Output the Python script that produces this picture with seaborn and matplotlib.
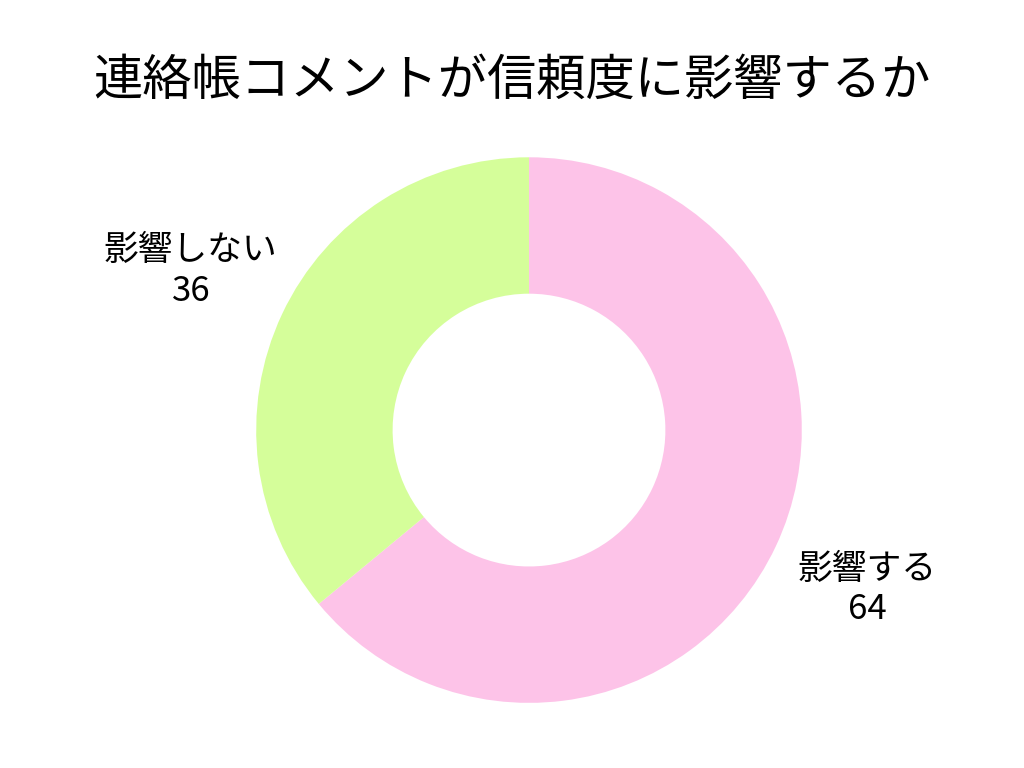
import matplotlib
matplotlib.use("Agg")
import matplotlib.pyplot as plt
import seaborn as sns

# data
categories = ["影響する", "影響しない"]
values = [64, 36]
colors = ["#FDC3E8", "#D5FE9A"]
title = "連絡帳コメントが信頼度に影響するか"

sns.set_style("white")
plt.rcParams['font.family'] = ['Noto Sans CJK JP', 'DejaVu Sans']
plt.rcParams['text.color'] = 'black'

fig = plt.figure(figsize=(10.24, 7.68), dpi=100)
ax = fig.add_axes([0.1836, -0.004, 0.666, 0.888])

labels = [f"{c}\n{v}" for c, v in zip(categories, values)]
ax.pie(values, labels=labels, colors=colors, startangle=90, counterclock=False,
       labeldistance=1.37, wedgeprops=dict(width=0.5, linewidth=0),
       textprops=dict(fontsize=25, ha='center', va='center', linespacing=1.2,
                      color='black'))
ax.set_aspect('equal')

fig.text(0.5, 0.895, title, ha='center', va='center', fontsize=35.5, color='black')

plt.savefig("out.png", dpi=100)
